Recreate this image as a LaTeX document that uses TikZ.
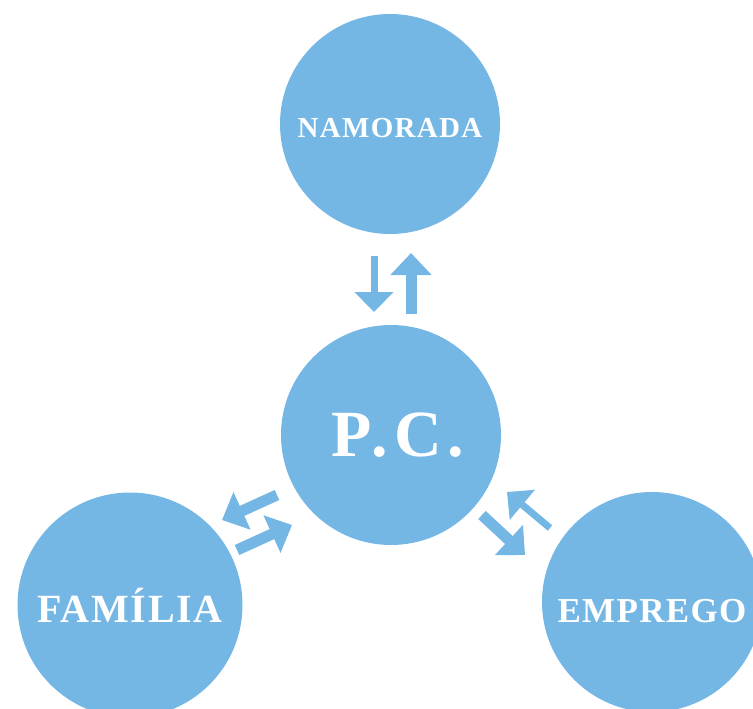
\documentclass[tikz,border=0pt]{standalone}
\usepackage{fontspec}
\setmainfont{Liberation Serif}
\usetikzlibrary{arrows.meta}
\definecolor{cblue}{RGB}{117,183,228}
\begin{document}
\begin{tikzpicture}[x=1pt,y=-1pt,
  bub/.style={circle,fill=cblue,minimum size=220pt,inner sep=0pt,text=white},
  thinarr/.style={draw=cblue,line width=7pt,-{Triangle[length=20pt,width=38pt]}},
  thickarr/.style={draw=cblue,line width=11pt,-{Triangle[length=22pt,width=40pt]}}]
\useasboundingbox (0,0) rectangle (753,709);
\node[bub,text height=27pt,text depth=0pt,
  font=\bfseries\fontsize{29}{29}\selectfont\addfontfeature{LetterSpace=4.4}] (nam) at (390,124) {NAMORADA};
\node[bub,text height=42pt,text depth=0pt,
  font=\bfseries\fontsize{66}{66}\selectfont\addfontfeature{LetterSpace=9}] (pc) at (391,435) {\hspace{14pt}P.C.};
\node[bub,minimum size=225pt,
  font=\bfseries\fontsize{40}{40}\selectfont\addfontfeature{LetterSpace=4.5}] (fam) at (130,605) {FAMÍLIA};
\node[bub,text height=41pt,text depth=0pt,
  font=\bfseries\fontsize{35}{35}\selectfont\addfontfeature{LetterSpace=3.8}] (emp) at (652,602) {EMPREGO};
% arrow end points
\coordinate (t1s) at (374,256); \coordinate (t1e) at (374,312);
\coordinate (t2s) at (411,314); \coordinate (t2e) at (411,253);
\coordinate (f1s) at (277,495); \coordinate (f1e) at (222,520);
\coordinate (f2s) at (237,550); \coordinate (f2e) at (292,525);
\coordinate (e1s) at (550,528); \coordinate (e1e) at (507,492);
\coordinate (e2s) at (482,515); \coordinate (e2e) at (525,555);
\draw[thinarr] (t1s) -- (t1e);
\draw[thickarr] (t2s) -- (t2e);
\draw[thickarr] (f1s) -- (f1e);
\draw[thickarr] (f2s) -- (f2e);
\draw[thinarr] (e1s) -- (e1e);
\draw[thickarr] (e2s) -- (e2e);
\end{tikzpicture}
\end{document}
